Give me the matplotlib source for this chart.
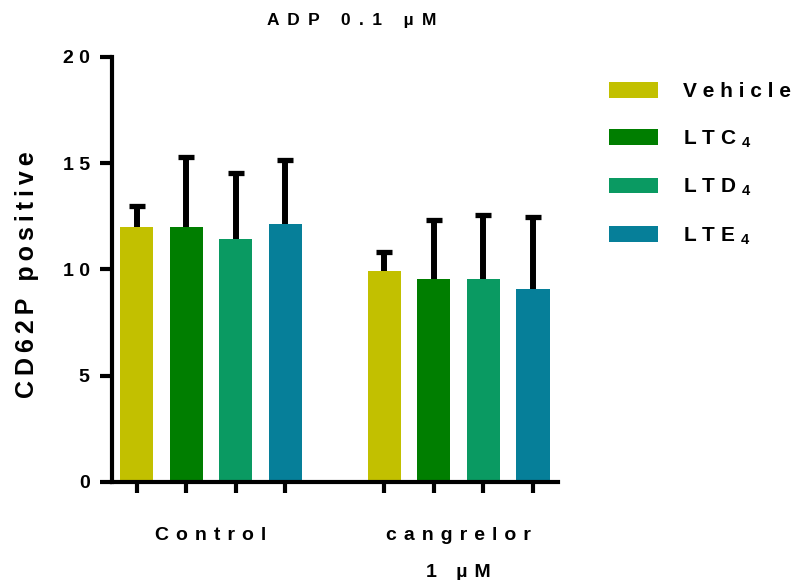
import matplotlib
matplotlib.use("Agg")
import matplotlib.pyplot as plt
import matplotlib.transforms as mtransforms
from matplotlib.patches import Patch
import numpy as np

plt.rcParams['font.family'] = ['Liberation Sans', 'DejaVu Sans']
plt.rcParams['mathtext.fontset'] = 'custom'
plt.rcParams['mathtext.rm'] = 'Liberation Sans:bold'
plt.rcParams['mathtext.bf'] = 'Liberation Sans:bold'
plt.rcParams['mathtext.default'] = 'bf'

WIDE = " \u2009"
MID = " \u200a"
NARROW = " "
THIN = "\u2009"


def sp(text, gap):
    return gap.join(text)


groups = ["Control", "cangrelor\n1 µM"]
series = ["Vehicle", "LTC", "LTD", "LTE"]
subscripts = ["", "4", "4", "4"]
colors = ["#c2c000", "#007e00", "#0a9a62", "#067f99"]
means = [[12.0, 9.93], [12.0, 9.55], [11.43, 9.55], [12.14, 9.08]]
errs_top = [[13.0, 10.8], [15.28, 12.33], [14.54, 12.56], [15.15, 12.47]]
yticks = [0, 5, 10, 15, 20]
title = "ADP 0.1 µM"
ylabel = "CD62P positive"

fig = plt.figure(figsize=(7.99, 5.80), dpi=100)
ax = fig.add_axes([0.140, 0.169, 0.558, 0.733])

n = len(series)
group_starts = [0, 5]
for i in range(n):
    xs = [g + i for g in group_starts]
    m = np.array(means[i])
    e = np.array(errs_top[i]) - m
    ax.bar(xs, m, width=0.67, color=colors[i], zorder=2)
    _, caps, _ = ax.errorbar(xs, m, yerr=[np.zeros_like(e), e], fmt='none', ecolor='black',
                             elinewidth=4.3, capsize=6, capthick=3.8, zorder=1)
    caps[0].set_visible(False)

bar_pos = [g + i for g in group_starts for i in range(n)]
ax.set_xlim(-0.5, 8.5)
ax.set_ylim(0, 20)
ax.set_xticks(bar_pos)
ax.set_xticklabels([])
ax.set_yticks(yticks)
ax.set_yticklabels([sp(str(t), NARROW) for t in yticks], fontsize=14, fontweight='bold')
ax.tick_params(axis='y', length=9, width=3, direction='out', pad=7)
ax.tick_params(axis='x', length=8, width=3, direction='out')
for s in ['top', 'right']:
    ax.spines[s].set_visible(False)
for s in ['left', 'bottom']:
    ax.spines[s].set_linewidth(3)

trans = mtransforms.blended_transform_factory(ax.transData, fig.transFigure)
for gs, lab in zip(group_starts, groups):
    txt = "\n".join(sp(line, MID) for line in lab.split("\n"))
    ax.text(gs + 1.5, 1 - 527 / 580, txt, transform=trans, ha='center', va='top',
            fontsize=14, fontweight='bold', linespacing=2.53)

ax.set_ylabel(sp(ylabel, THIN), fontsize=18, fontweight='bold', labelpad=17)
ax.yaxis.label.set_y((482 - 275) / 425)
fig.text(352 / 799, 1 - 20 / 580, sp(title, WIDE), ha='center', va='center',
         fontsize=12.5, fontweight='bold')

labels = [sp(s, NARROW) + (r" $_{%s}$" % sub if sub else "") for s, sub in zip(series, subscripts)]
handles = [Patch(facecolor=c) for c in colors]
leg = fig.legend(handles, labels, loc='upper left', bbox_to_anchor=(609 / 799, 1 - 82 / 580),
                 frameon=False, handlelength=2.36, handleheight=0.77, labelspacing=1.31,
                 handletextpad=1.2, borderpad=0, borderaxespad=0,
                 prop={'size': 15, 'weight': 'bold'})

fig.savefig("out.png", dpi=100)
